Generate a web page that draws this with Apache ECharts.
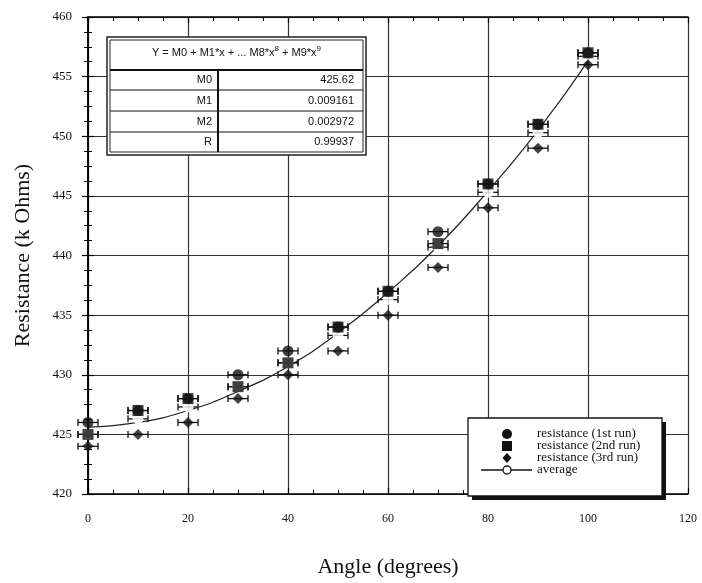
<!DOCTYPE html>
<html>
<head>
<meta charset="utf-8">
<script src="https://cdn.jsdelivr.net/npm/echarts@6/dist/echarts.min.js"></script>
<style>
  html, body { margin: 0; padding: 0; background: #fff; }
  #chart { width: 702px; height: 583px; }
</style>
</head>
<body>
<div id="chart"></div>
<script>
// Measured resistance versus angle, three runs plus their average
const angles = [0, 10, 20, 30, 40, 50, 60, 70, 80, 90, 100];
const run1 = [426, 427, 428, 430, 432, 434, 437, 442, 446, 451, 457];
const run2 = [425, 427, 428, 429, 431, 434, 437, 441, 446, 451, 457];
const run3 = [424, 425, 426, 428, 430, 432, 435, 439, 444, 449, 456];
const average = [425.0, 426.3, 427.3, 429.0, 431.0, 433.3, 436.3, 440.7, 445.3, 450.3, 456.7];
// Polynomial fit curve sampled along the angle range
const fitAngles = [0, 10, 20, 30, 40, 50, 60, 70, 80, 90, 100];
const fitValues = [425.6, 426.0, 427.0, 428.6, 430.7, 433.5, 436.9, 440.8, 445.4, 450.5, 456.3];
// Horizontal uncertainty on angle (degrees)
const angleError = 2;
// Fit coefficients table
const fitTitle = 'Y = M0 + M1*x + ... M8*x';
const coefNames = ['M0', 'M1', 'M2', 'R'];
const coefValues = ['425.62', '0.009161', '0.002972', '0.99937'];
// Legend entries
const legendNames = ['resistance (1st run)', 'resistance (2nd run)', 'resistance (3rd run)', 'average'];

const pairs = (ys) => angles.map((x, i) => [x, ys[i]]);
const errData = (ys) => angles.map((x, i) => [x, ys[i], x - angleError, x + angleError]);

function errorBar(params, api) {
  const y = api.value(1);
  const a = api.coord([api.value(2), y]);
  const b = api.coord([api.value(3), y]);
  const h = 3.5;
  const st = { stroke: '#111', lineWidth: 1.3 };
  return {
    type: 'group',
    children: [
      { type: 'line', shape: { x1: a[0], y1: a[1], x2: b[0], y2: b[1] }, style: st },
      { type: 'line', shape: { x1: a[0], y1: a[1] - h, x2: a[0], y2: a[1] + h }, style: st },
      { type: 'line', shape: { x1: b[0], y1: b[1] - h, x2: b[0], y2: b[1] + h }, style: st }
    ]
  };
}

const serif = 'Liberation Serif, Times New Roman, serif';
const sans = 'Liberation Sans, Arial, sans-serif';

const chart = echarts.init(document.getElementById('chart'), null, { renderer: 'canvas' });

const axisCommon = {
  axisLine: { show: true, lineStyle: { color: '#000', width: 1.5 } },
  axisTick: { show: true, inside: true, length: 6, lineStyle: { color: '#000', width: 1.2 } },
  minorTick: { show: true, splitNumber: 4, length: 4, lineStyle: { color: '#000', width: 1 } },
};

// Table inset geometry
const tb = { x: 107, y: 37, w: 259, h: 118 };
const rowLines = [70, 90, 111, 132];
const rowCenters = [80, 101, 122, 142];
const colX = 218;

const graphics = [
  { type: 'rect', shape: { x: tb.x, y: tb.y, width: tb.w, height: tb.h }, style: { fill: '#fff', stroke: '#222', lineWidth: 1.5 }, z: 10 },
  { type: 'rect', shape: { x: tb.x + 3, y: tb.y + 3, width: tb.w - 6, height: tb.h - 6 }, style: { fill: 'none', stroke: '#222', lineWidth: 1 }, z: 10 },
  { type: 'line', shape: { x1: colX, y1: rowLines[0], x2: colX, y2: tb.y + tb.h - 3 }, style: { stroke: '#111', lineWidth: 2 }, z: 11 },
  {
    type: 'text', x: (tb.x + tb.x + tb.w) / 2, y: 53, z: 11,
    style: {
      text: '{a|' + fitTitle + '}{s|8}{a| + M9*x}{s|9}',
      x: 0, y: 0, align: 'center', verticalAlign: 'middle',
      rich: {
        a: { fontFamily: sans, fontSize: 11, fill: '#111', lineHeight: 16 },
        s: { fontFamily: sans, fontSize: 8, fill: '#111', lineHeight: 16, verticalAlign: 'top', padding: [0, 0, 10, 0] }
      }
    }
  }
];
rowLines.forEach((ly, i) => {
  graphics.push({ type: 'line', shape: { x1: tb.x + 3, y1: ly, x2: tb.x + tb.w - 3, y2: ly }, style: { stroke: '#111', lineWidth: i === 0 ? 2 : 1 }, z: 11 });
});
coefNames.forEach((n, i) => {
  graphics.push({ type: 'text', x: 212, y: rowCenters[i], z: 11, style: { text: n, align: 'right', verticalAlign: 'middle', fontFamily: sans, fontSize: 11, fill: '#111' } });
  graphics.push({ type: 'text', x: 354, y: rowCenters[i], z: 11, style: { text: coefValues[i], align: 'right', verticalAlign: 'middle', fontFamily: sans, fontSize: 11, fill: '#111' } });
});

// Legend box with drop shadow
const lg = { x: 468, y: 418, w: 194, h: 78 };
const lgRowY = [434, 446, 458, 470];
const lgMarkX = 507;
const lgTextX = 537;
graphics.push({ type: 'rect', shape: { x: lg.x + 4, y: lg.y + 4, width: lg.w, height: lg.h }, style: { fill: '#111' }, z: 12 });
graphics.push({ type: 'rect', shape: { x: lg.x, y: lg.y, width: lg.w, height: lg.h }, style: { fill: '#fff', stroke: '#111', lineWidth: 1.3 }, z: 13 });
graphics.push({ type: 'circle', shape: { cx: lgMarkX, cy: lgRowY[0], r: 5 }, style: { fill: '#111' }, z: 14 });
graphics.push({ type: 'rect', shape: { x: lgMarkX - 5, y: lgRowY[1] - 5, width: 10, height: 10 }, style: { fill: '#111' }, z: 14 });
graphics.push({ type: 'polygon', shape: { points: [[lgMarkX, lgRowY[2] - 5], [lgMarkX + 4.5, lgRowY[2]], [lgMarkX, lgRowY[2] + 5], [lgMarkX - 4.5, lgRowY[2]]] }, style: { fill: '#111' }, z: 14 });
graphics.push({ type: 'line', shape: { x1: 481, y1: lgRowY[3], x2: 532, y2: lgRowY[3] }, style: { stroke: '#111', lineWidth: 1.3 }, z: 14 });
graphics.push({ type: 'circle', shape: { cx: lgMarkX, cy: lgRowY[3], r: 4 }, style: { fill: '#fff', stroke: '#111', lineWidth: 1.3 }, z: 15 });
legendNames.forEach((n, i) => {
  graphics.push({ type: 'text', x: lgTextX, y: lgRowY[i], z: 15, style: { text: n, align: 'left', verticalAlign: 'middle', fontFamily: serif, fontSize: 13, fill: '#111' } });
});

const option = {
  animation: false,
  backgroundColor: '#fff',
  grid: { left: 88, right: 14, top: 17, bottom: 86 },
  xAxis: [
    Object.assign({
      type: 'value', min: 0, max: 120, interval: 20,
      name: 'Angle (degrees)', nameLocation: 'middle', nameGap: 62,
      nameTextStyle: { fontFamily: serif, fontSize: 22, color: '#111' },
      axisLabel: { fontFamily: serif, fontSize: 12, color: '#111', margin: 19 },
      splitLine: { show: true, lineStyle: { color: '#333', width: 1.2 } }
    }, axisCommon),
    Object.assign({
      type: 'value', min: 0, max: 120, interval: 20, position: 'top',
      axisLabel: { show: false }, splitLine: { show: false }
    }, axisCommon)
  ],
  yAxis: [
    Object.assign({
      type: 'value', min: 420, max: 460, interval: 5,
      name: 'Resistance (k Ohms)', nameLocation: 'middle', nameGap: 54, nameRotate: 90,
      nameTextStyle: { fontFamily: serif, fontSize: 22, color: '#111' },
      axisLabel: { fontFamily: serif, fontSize: 13, color: '#111', margin: 16 },
      splitLine: { show: true, lineStyle: { color: '#333', width: 1.2 } }
    }, axisCommon),
    Object.assign({
      type: 'value', min: 420, max: 460, interval: 5, position: 'right',
      axisLabel: { show: false }, splitLine: { show: false }
    }, axisCommon)
  ],
  graphic: graphics,
  series: [
    { type: 'custom', renderItem: errorBar, data: errData(run1), z: 3, silent: true },
    { type: 'custom', renderItem: errorBar, data: errData(run2), z: 3, silent: true },
    { type: 'custom', renderItem: errorBar, data: errData(run3), z: 3, silent: true },
    { type: 'custom', renderItem: errorBar, data: errData(average), z: 3, silent: true },
    {
      type: 'line', data: fitAngles.map((x, i) => [x, fitValues[i]]), smooth: true,
      showSymbol: false, lineStyle: { color: '#222', width: 1.2 }, z: 4, silent: true
    },
    {
      name: 'average', type: 'scatter', data: pairs(average),
      symbol: 'emptyCircle', symbolSize: 9,
      itemStyle: { color: '#fff', borderColor: '#111', borderWidth: 1.3 }, z: 5
    },
    {
      name: 'resistance (1st run)', type: 'scatter', data: pairs(run1),
      symbol: 'circle', symbolSize: 11, itemStyle: { color: '#111' }, z: 6
    },
    {
      name: 'resistance (2nd run)', type: 'scatter', data: pairs(run2),
      symbol: 'rect', symbolSize: 11, itemStyle: { color: '#111' }, z: 7
    },
    {
      name: 'resistance (3rd run)', type: 'scatter', data: pairs(run3),
      symbol: 'diamond', symbolSize: 11, itemStyle: { color: '#111' }, z: 7
    }
  ]
};
chart.setOption(option);
</script>
</body>
</html>
